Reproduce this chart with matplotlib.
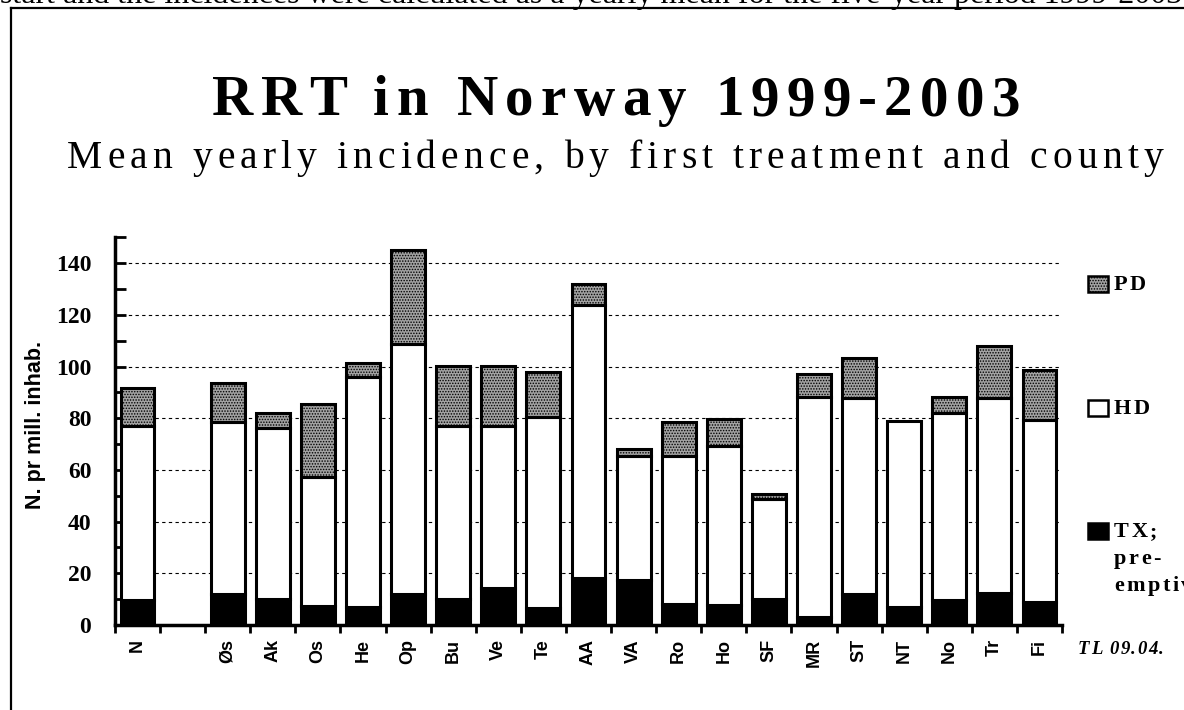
import matplotlib
matplotlib.use("Agg")
import matplotlib.pyplot as plt
import numpy as np
from matplotlib.patches import Rectangle
from matplotlib.lines import Line2D

# counties (first one is the national mean, second slot left empty)
labels = ["N", "", "Øs", "Ak", "Os", "He", "Op", "Bu", "Ve", "Te", "AA",
          "VA", "Ro", "Ho", "SF", "MR", "ST", "NT", "No", "Tr", "Fi"]
tx = [9.8, 0, 11.9, 9.9, 7.4, 7.1, 11.9, 9.9, 14.4, 6.7, 18.3,
      17.4, 8.1, 7.7, 9.9, 3.2, 11.9, 7.1, 9.7, 12.5, 9.0]
hd = [67.3, 0, 66.8, 66.2, 50.0, 89.0, 96.8, 67.2, 62.7, 73.9, 105.5,
      48.1, 57.3, 61.7, 38.7, 85.2, 75.8, 71.9, 72.2, 75.5, 70.3]
pd_ = [14.5, 0, 14.8, 5.8, 28.1, 5.2, 36.4, 23.3, 23.0, 17.2, 8.2,
       2.6, 13.3, 10.2, 2.0, 8.6, 15.5, 0.0, 6.2, 20.1, 19.4]
yticks = [0, 20, 40, 60, 80, 100, 120, 140]

serif = "Liberation Serif"
sans = "Liberation Sans"
W, H = 1184, 710

plt.rcParams["hatch.linewidth"] = 0.7
plt.rcParams["hatch.color"] = "black"

fig = plt.figure(figsize=(11.84, 7.1), dpi=100)
renderer = fig.canvas.get_renderer()
ax = fig.add_axes([0.0971, 0.1197, 0.7999, 0.5459])

x = np.arange(len(labels))
keep = [i for i, l in enumerate(labels) if l != ""]
xs = x[keep]
t = np.array(tx)[keep]
h = np.array(hd)[keep]
p = np.array(pd_)[keep]

w = 0.75
edge = dict(edgecolor="black", linewidth=2.2)
pd_face = "#a2a2a2"
ax.bar(xs, t, w, color="black", zorder=3, **edge)
ax.bar(xs, h, w, bottom=t, color="white", zorder=3, **edge)
m = p > 0
ax.bar(xs[m], p[m], w, bottom=(t + h)[m], color=pd_face,
       hatch="......", zorder=3, **edge)

ax.set_xlim(-0.5, len(labels) - 0.5)
ax.set_ylim(0, 150)

for v in yticks[1:]:
    ax.axhline(v, color="black", lw=0.8, ls=(0, (3, 3)), zorder=1)

ax.set_yticks(np.arange(0, 151, 10))
ax.set_yticklabels([str(v) if v in yticks else "" for v in range(0, 151, 10)],
                   fontfamily=serif, fontweight="bold", fontsize=17)
ax.tick_params(axis="y", direction="in", length=8, width=2, pad=17)

ax.set_xticks(np.arange(-0.5, len(labels) + 0.5, 1.0))
ax.set_xticklabels([])
ax.set_xticks(x, minor=True)
ax.set_xticklabels(labels, minor=True, rotation=90, fontfamily=sans,
                   fontweight="bold", fontsize=13)
ax.tick_params(axis="x", which="major", direction="out", length=6, width=2)
ax.tick_params(axis="x", which="minor", length=0, pad=10)

for s in ["top", "right"]:
    ax.spines[s].set_visible(False)
ax.spines["left"].set_linewidth(2.5)
ax.spines["bottom"].set_linewidth(2.5)

fig.text(36 / W, 1 - 425 / H, "N. pr mill. inhab.", fontfamily=sans,
         fontweight="bold", fontsize=15.5, rotation=90, ha="center", va="center")


def text_w(s, **kw):
    tt = fig.text(0, 0, s + "|", **kw)
    bar = fig.text(0, 0, "|", **kw)
    wd = tt.get_window_extent(renderer).width - bar.get_window_extent(renderer).width
    tt.remove()
    bar.remove()
    return wd


def tracked(s, xpx, ypx, track=None, width=None, ha="center", **kw):
    # letter-spaced text drawn char by char, positions in pixels from top-left
    natural = text_w(s, **kw)
    if width is not None:
        track = (width - natural) / (len(s) - 1)
    total = natural + track * (len(s) - 1)
    x0 = xpx - total / 2 if ha == "center" else xpx
    for i, ch in enumerate(s):
        if ch == " ":
            continue
        xi = x0 + text_w(s[:i], **kw) + track * i
        fig.text(xi / W, 1 - ypx / H, ch, ha="left", va="baseline", **kw)


fig.text(0, 1 - 3.5 / H,
         "start and the incidences were calculated as a yearly mean for the five-year period 1999-2003.",
         fontfamily=serif, fontsize=23, va="baseline", ha="left")
tracked("RRT in Norway 1999-2003", 616, 115, width=808,
        fontfamily=serif, fontweight="bold", fontsize=41)
tracked("Mean yearly incidence, by first treatment and county", 615, 168, width=1096,
        fontfamily=serif, fontsize=28.5)

# frame
fig.add_artist(Line2D([11 / W, 11 / W], [0, 1 - 7.5 / H], color="black", lw=1.6))
fig.add_artist(Line2D([11 / W, 1.0], [1 - 7.5 / H, 1 - 7.5 / H], color="black", lw=1.6))


def legend_item(ypx, face, hatch, lines):
    fig.add_artist(Rectangle((1088 / W, 1 - (ypx + 8) / H), 20 / W, 16 / H,
                             facecolor=face, hatch=hatch, edgecolor="black",
                             linewidth=1.8, transform=fig.transFigure))
    for k, ln in enumerate(lines):
        tracked(ln, 1114, ypx + 6 + k * 27, track=2.5, ha="left",
                fontfamily=serif, fontweight="bold", fontsize=16)


legend_item(284, pd_face, "......", ["PD"])
legend_item(408, "white", None, ["HD"])
legend_item(531, "black", None, ["TX;", "pre-", "emptive"])

tracked("TL 09.04.", 1078, 654, track=1.5, ha="left", fontfamily=serif,
        fontstyle="italic", fontweight="bold", fontsize=13.5)

fig.savefig("out.png", dpi=100)
